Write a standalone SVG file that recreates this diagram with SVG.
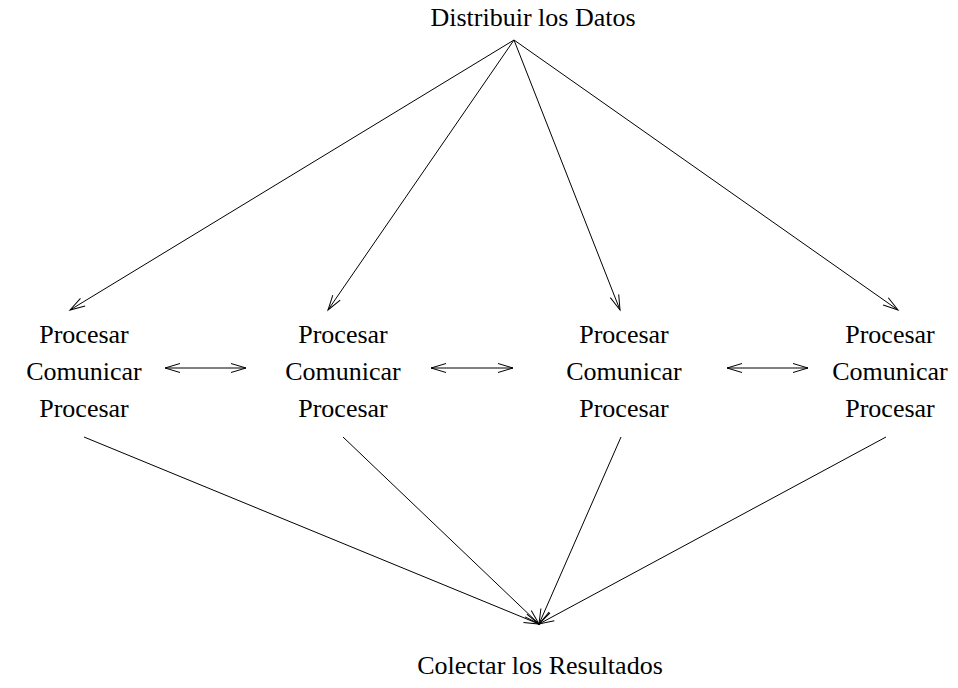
<svg xmlns="http://www.w3.org/2000/svg" width="958" height="688" viewBox="0 0 958 688">
  <style>
    .lbl { font-size: 26px; fill: #000; text-anchor: middle; }
    .edge { stroke: #000; stroke-width: 1; fill: none; }
    .to { marker-end: url(#vhead); }
    .both { marker-start: url(#vhead); marker-end: url(#vhead); }
  </style>
  <defs>
    <marker id="vhead" viewBox="-16 -8 18 16" markerWidth="18" markerHeight="16" refX="0" refY="0" markerUnits="userSpaceOnUse" orient="auto-start-reverse" overflow="visible">
      <path d="M-15,-4.5 L0,0 L-15,4.5" fill="none" stroke="#000" stroke-width="1"/>
    </marker>
  </defs>
  <rect width="958" height="688" fill="#fff"/>

  <g class="lbl" font-family="Liberation Serif, DejaVu Serif, serif">
    <g id="distribuir">
      <text x="533" y="26">Distribuir los Datos</text>
    </g>

    <g id="nodo1">
      <text x="84" y="343">Procesar</text>
      <text x="84" y="380">Comunicar</text>
      <text x="84" y="417">Procesar</text>
    </g>
    <g id="nodo2">
      <text x="343" y="343">Procesar</text>
      <text x="343" y="380">Comunicar</text>
      <text x="343" y="417">Procesar</text>
    </g>
    <g id="nodo3">
      <text x="624" y="343">Procesar</text>
      <text x="624" y="380">Comunicar</text>
      <text x="624" y="417">Procesar</text>
    </g>
    <g id="nodo4">
      <text x="890" y="343">Procesar</text>
      <text x="890" y="380">Comunicar</text>
      <text x="890" y="417">Procesar</text>
    </g>

    <g id="colectar">
      <text x="540" y="674">Colectar los Resultados</text>
    </g>
  </g>

  <g id="conectores">
    <!-- distribution -->
    <line class="edge to" x1="514" y1="40" x2="70" y2="310"/>
    <line class="edge to" x1="514" y1="40" x2="328" y2="310"/>
    <line class="edge to" x1="514" y1="40" x2="620" y2="310"/>
    <line class="edge to" x1="514" y1="40" x2="898" y2="310"/>
    <!-- neighbour communication -->
    <line class="edge both" x1="165" y1="368" x2="246" y2="368"/>
    <line class="edge both" x1="431" y1="368" x2="513" y2="368"/>
    <line class="edge both" x1="727" y1="368" x2="808" y2="368"/>
    <!-- collection -->
    <line class="edge to" x1="84" y1="437" x2="539" y2="624"/>
    <line class="edge to" x1="343" y1="437" x2="539" y2="624"/>
    <line class="edge to" x1="621" y1="437" x2="539" y2="624"/>
    <line class="edge to" x1="886" y1="437" x2="539" y2="624"/>
  </g>
</svg>
